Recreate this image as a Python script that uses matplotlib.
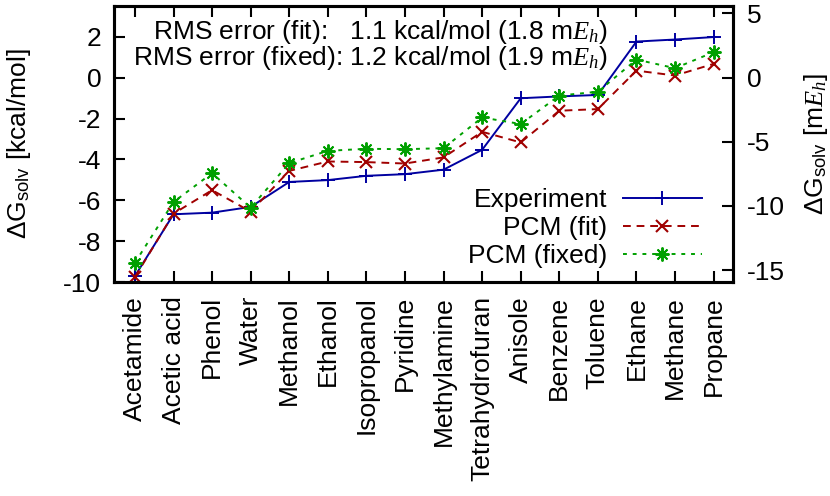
import matplotlib
matplotlib.use("Agg")
import matplotlib.pyplot as plt
import numpy as np

plt.rcParams['font.family'] = ['Liberation Sans', 'DejaVu Sans']
plt.rcParams['mathtext.fontset'] = 'custom'
plt.rcParams['mathtext.rm'] = 'Liberation Sans'
plt.rcParams['mathtext.it'] = 'Liberation Serif:italic'
plt.rcParams['axes.unicode_minus'] = False
plt.rcParams['font.size'] = 19

# solvation free energies in kcal/mol
molecules = ['Acetamide', 'Acetic acid', 'Phenol', 'Water', 'Methanol', 'Ethanol',
             'Isopropanol', 'Pyridine', 'Methylamine', 'Tetrahydrofuran', 'Anisole',
             'Benzene', 'Toluene', 'Ethane', 'Methane', 'Propane']
experiment = [-9.70, -6.68, -6.60, -6.32, -5.10, -5.01, -4.80, -4.72, -4.50, -3.53,
              -1.01, -0.92, -0.85, 1.76, 1.86, 1.98]
pcm_fit = [-9.75, -6.65, -5.50, -6.55, -4.56, -4.10, -4.13, -4.20, -3.90, -2.65,
           -3.17, -1.62, -1.54, 0.34, 0.10, 0.67]
pcm_fixed = [-9.05, -6.08, -4.67, -6.36, -4.18, -3.58, -3.48, -3.50, -3.45, -1.95,
             -2.27, -0.88, -0.69, 0.88, 0.46, 1.24]

kcal_per_mEh = 0.6275

fig, ax = plt.subplots(figsize=(8.3, 4.96), dpi=100)
fig.subplots_adjust(left=0.137, right=0.883, top=0.988, bottom=0.431)

x = np.arange(len(molecules))
ax.plot(x, experiment, color='#0000a0', lw=1.4, marker='+', ms=10, mew=1.4, label='Experiment')
ax.plot(x, pcm_fit, color='#a00000', lw=1.4, ls=(0, (4, 3)), marker='x', ms=8.5, mew=1.5, label='PCM (fit)')
ax.plot(x, pcm_fixed, color='#00a000', lw=1.4, ls=(0, (2, 3)), marker=(8, 2, 0), ms=10, mew=1.4, label='PCM (fixed)')

ax.set_xlim(-0.55, 15.5)
ax.set_ylim(-10, 3.5)
ax.set_xticks(x)
ax.set_xticklabels(molecules, rotation=90)
ax.set_yticks([-10, -8, -6, -4, -2, 0, 2])
ax.set_ylabel(r'ΔG$_\mathrm{solv}$ [kcal/mol]')
ax.yaxis.set_label_coords(-0.131, 0.5)
ax.tick_params(direction='in', length=8, width=1.5, top=True, right=False, pad=9)
ax.tick_params(axis='x', pad=10)
for s in ax.spines.values():
    s.set_linewidth(2.2)

ax2 = ax.twinx()
lo, hi = ax.get_ylim()
ax2.set_ylim(lo / kcal_per_mEh, hi / kcal_per_mEh)
ax2.set_yticks([-15, -10, -5, 0, 5])
ax2.tick_params(direction='in', length=8, width=1.5, pad=10)
ax2.set_ylabel(r'ΔG$_\mathrm{solv}$ [m$E_h$]')
ax2.yaxis.set_label_coords(1.111, 0.5)
for s in ax2.spines.values():
    s.set_linewidth(2.2)

ax.text(0.798, 0.880, r'RMS error (fit):   1.1 kcal/mol (1.8 m$E_h$)', transform=ax.transAxes,
        ha='right', va='baseline')
ax.text(0.798, 0.786, r'RMS error (fixed): 1.2 kcal/mol (1.9 m$E_h$)', transform=ax.transAxes,
        ha='right', va='baseline')

ax.legend(loc='lower right', bbox_to_anchor=(0.95, 0.05), frameon=False, markerfirst=False,
          handlelength=3.0, handletextpad=0.6, labelspacing=0.15, borderaxespad=0, borderpad=0)

fig.savefig('out.png', dpi=100)
